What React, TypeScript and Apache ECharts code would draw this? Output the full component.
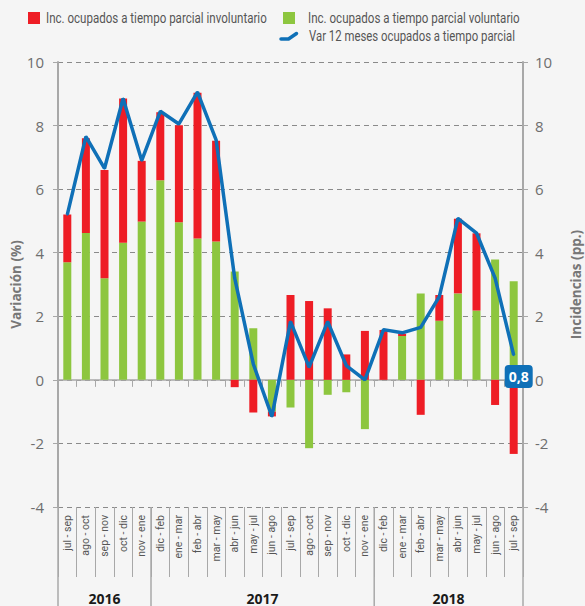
import React, { useEffect, useRef } from 'react';
import * as echarts from 'echarts';

const categories = [
  'jul - sep', 'ago - oct', 'sep - nov', 'oct - dic', 'nov - ene',
  'dic - feb', 'ene - mar', 'feb - abr', 'mar - may', 'abr - jun', 'may - jul', 'jun - ago',
  'jul - sep', 'ago - oct', 'sep - nov', 'oct - dic', 'nov - ene',
  'dic - feb', 'ene - mar', 'feb - abr', 'mar - may', 'abr - jun', 'may - jul', 'jun - ago', 'jul - sep',
];
const voluntario = [3.7, 4.62, 3.2, 4.31, 4.98, 6.28, 4.96, 4.45, 4.35, 3.41, 1.62, -1.0, -0.87, -2.15, -0.47, -0.39, -1.55, 0, 1.38, 2.72, 1.86, 2.72, 2.18, 3.79, 3.1];
const involuntario = [1.5, 2.98, 3.4, 4.54, 1.91, 2.14, 3.05, 4.58, 3.17, -0.23, -1.03, -0.15, 2.67, 2.48, 2.25, 0.8, 1.54, 1.57, 0.07, -1.1, 0.81, 2.35, 2.43, -0.79, -2.33];
const variacion = [5.2, 7.65, 6.65, 8.85, 6.9, 8.45, 8.05, 9.05, 7.55, 3.2, 0.5, -1.15, 1.83, 0.4, 1.83, 0.45, 0.0, 1.58, 1.48, 1.65, 2.62, 5.08, 4.62, 3.2, 0.78];
const yearLabels = ['2016', '2017', '2018'];
const yearSpans = [5, 12, 8];
const yMin = -4;
const yMax = 10;
const yStep = 2;

const NAME_INV = 'Inc. ocupados a tiempo parcial involuntario';
const NAME_VOL = 'Inc. ocupados a tiempo parcial voluntario';
const NAME_VAR = 'Var 12 meses ocupados a tiempo parcial';

const RED = '#ee1d25';
const GREEN = '#8dc63f';
const BLUE = '#0f70b7';
const NARROW = "Roboto, 'Noto Sans', sans-serif";
const SANS = "'Open Sans', 'Noto Sans', sans-serif";

function measure(text: string, font: string): number {
  const c = document.createElement('canvas').getContext('2d');
  if (!c) return text.length * 7;
  c.font = font;
  return c.measureText(text).width;
}

export default function App() {
  const ref = useRef<HTMLDivElement>(null);
  useEffect(() => {
    const chart = echarts.init(ref.current!, null, { renderer: 'svg' });
    const lastIdx = variacion.length - 1;
    const lineData = variacion.map((v, i) =>
      i === lastIdx
        ? {
            value: v,
            label: {
              show: true,
              position: 'bottom',
              distance: 9,
              offset: [5, 0],
              formatter: (p: any) => Number(p.value).toFixed(1).replace('.', ','),
              color: '#fff',
              fontWeight: 'bold',
              fontSize: 14,
              lineHeight: 15,
              fontFamily: SANS,
              backgroundColor: BLUE,
              borderRadius: 4,
              padding: [4, 4, 4, 4],
            },
          }
        : v
    );
    const axisGray = '#a8a8a8';
    chart.setOption({
      animation: false,
      backgroundColor: '#f5f5f5',
      grid: { left: 58, right: 62, top: 62, bottom: 99, containLabel: false, outerBoundsMode: 'none' },
      xAxis: [
        {
          type: 'category',
          data: categories,
          position: 'bottom',
          axisLine: { onZero: true, lineStyle: { color: axisGray, width: 1.5 } },
          axisTick: { show: true, length: 7, interval: 0, lineStyle: { color: axisGray } },
          axisLabel: { show: false },
          splitLine: { show: false },
        },
        {
          type: 'category',
          data: categories,
          position: 'bottom',
          axisLine: { show: false, onZero: false },
          axisTick: { show: true, length: 70, interval: 0, lineStyle: { color: axisGray, width: 1 } },
          axisLabel: {
            show: true,
            interval: 0,
            rotate: 90,
            margin: 8,
            color: '#555',
            fontSize: 10.5,
            fontFamily: NARROW,
          },
          splitLine: { show: false },
        },
      ],
      yAxis: [
        {
          type: 'value',
          position: 'left',
          min: yMin,
          max: yMax,
          interval: yStep,
          name: 'Variación (%)',
          nameLocation: 'middle',
          nameGap: 35,
          nameRotate: 90,
          nameMoveOverlap: false,
          nameTextStyle: { color: '#777', fontWeight: 'bold', fontSize: 13.5, lineHeight: 14, fontFamily: SANS },
          axisLine: { show: true, lineStyle: { color: axisGray, width: 2 } },
          axisTick: { show: true, length: 5, lineStyle: { color: axisGray } },
          axisLabel: { color: '#6e6e6e', fontSize: 15, margin: 14, fontFamily: SANS },
          splitLine: { show: true, lineStyle: { color: '#8a8a8a', width: 1.2, type: [5, 4] } },
        },
        {
          type: 'value',
          position: 'right',
          min: yMin,
          max: yMax,
          interval: yStep,
          name: 'Incidencias (pp.)',
          nameLocation: 'middle',
          nameGap: 46,
          nameRotate: 90,
          nameMoveOverlap: false,
          nameTextStyle: { color: '#777', fontWeight: 'bold', fontSize: 13.5, lineHeight: 14, fontFamily: SANS },
          axisLine: { show: true, lineStyle: { color: axisGray, width: 2 } },
          axisTick: { show: true, length: 5, lineStyle: { color: axisGray } },
          axisLabel: { color: '#6e6e6e', fontSize: 15, margin: 12, fontFamily: SANS },
          splitLine: { show: false },
        },
      ],
      series: [
        {
          name: NAME_VOL,
          type: 'bar',
          stack: 'inc',
          barWidth: 8,
          xAxisIndex: 0,
          yAxisIndex: 0,
          itemStyle: { color: GREEN },
          data: voluntario,
        },
        {
          name: NAME_INV,
          type: 'bar',
          stack: 'inc',
          barWidth: 8,
          xAxisIndex: 0,
          yAxisIndex: 0,
          itemStyle: { color: RED },
          data: involuntario,
        },
        {
          name: NAME_VAR,
          type: 'line',
          xAxisIndex: 0,
          yAxisIndex: 0,
          symbol: 'circle',
          symbolSize: 2,
          showSymbol: true,
          z: 5,
          itemStyle: { color: BLUE },
          lineStyle: { color: BLUE, width: 3.5 },
          data: lineData,
        },
      ],
    });

    const xAt = (i: number) => chart.convertToPixel({ xAxisIndex: 0 }, i) as number;
    const step = xAt(1) - xAt(0);
    const yBottom = chart.convertToPixel({ yAxisIndex: 0 }, yMin) as number;
    const H = 606;
    const elements: any[] = [];
    let start = 0;
    const firstX = xAt(0) - step / 2;
    elements.push({
      type: 'line',
      shape: { x1: firstX, y1: yBottom, x2: firstX, y2: H },
      style: { stroke: axisGray, lineWidth: 1.5 },
    });
    yearSpans.forEach((span, k) => {
      const x0 = xAt(start) - step / 2;
      const x1 = xAt(start + span - 1) + step / 2;
      elements.push({
        type: 'line',
        shape: { x1: x1, y1: yBottom, x2: x1, y2: H },
        style: { stroke: axisGray, lineWidth: 1.5 },
      });
      elements.push({
        type: 'text',
        x: (x0 + x1) / 2,
        y: 598,
        style: {
          text: yearLabels[k],
          align: 'center',
          verticalAlign: 'middle',
          fill: '#1a1a1a',
          font: `bold 14px ${SANS}`,
        },
      });
      start += span;
    });

    // Legend (drawn as graphics so the condensed text widths match)
    const legendFont = `14px ${NARROW}`;
    const legendText = (text: string, x: number, y: number, targetW: number) => {
      const w = measure(text, legendFont);
      return {
        type: 'text',
        x,
        y,
        scaleX: Math.min(1, targetW / w),
        style: { text, fill: '#555', font: legendFont, align: 'left', verticalAlign: 'middle' },
      };
    };
    elements.push({ type: 'rect', shape: { x: 28, y: 12, width: 12, height: 12 }, style: { fill: RED } });
    elements.push(legendText(NAME_INV, 46, 18.5, 221));
    elements.push({ type: 'rect', shape: { x: 283, y: 12, width: 12, height: 12 }, style: { fill: GREEN } });
    elements.push(legendText(NAME_VOL, 308, 18.5, 212));
    elements.push({
      type: 'polyline',
      shape: { points: [[281, 39], [288.5, 39], [296.5, 33.5]] },
      style: { stroke: BLUE, lineWidth: 3.5, lineCap: 'round', lineJoin: 'round', fill: null },
    });
    elements.push(legendText(NAME_VAR, 309, 36.5, 206));

    chart.setOption({ graphic: elements });
    return () => chart.dispose();
  }, []);
  return <div ref={ref} style={{ position: 'absolute', left: 0, top: 0, width: 585, height: 606 }} />;
}
